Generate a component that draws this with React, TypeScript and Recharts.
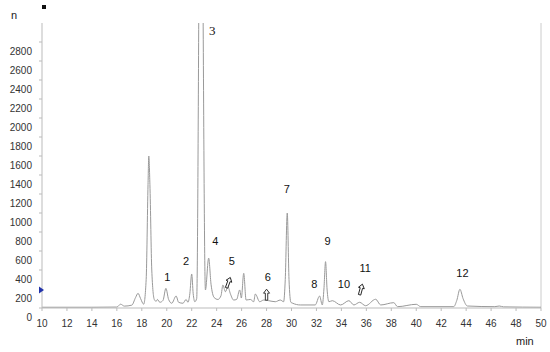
import React from 'react'
import { LineChart, Line, XAxis, YAxis, ReferenceDot, ReferenceLine } from 'recharts'

// retention time (min) and detector signal
const times = [
  10, 14, 16.0, 16.3, 16.6, 17.2, 17.5, 17.7, 17.9, 18.15, 18.35, 18.5, 18.56, 18.65, 18.8, 19.0,
  19.15, 19.25, 19.45, 19.7, 19.93, 20.15, 20.4, 20.75, 20.95, 21.3, 21.55, 21.7, 21.85, 22.0,
  22.12, 22.25, 22.4, 22.73, 23.1, 23.36, 23.55, 23.8, 24.1, 24.35, 24.5, 24.7, 24.9, 25.1,
  25.36, 25.6, 25.85, 25.98, 26.17, 26.36, 26.7, 26.97, 27.1, 27.45, 27.77, 28.17, 28.7, 29.1,
  29.37, 29.5, 29.66, 29.8, 29.95, 30.1, 30.7, 31.9, 32.25, 32.47, 32.6, 32.73, 32.85, 33.0,
  33.27, 33.94, 34.6, 35.0, 35.46, 35.94, 36.75, 37.15, 38.2, 38.5, 40.0, 40.36, 43.0, 43.25,
  43.5, 43.75, 44.1, 46.3, 46.65, 47.0, 50,
]
const signal = [
  8, 8, 10, 40, 20, 30, 110, 155, 100, 40, 300, 1300, 1600, 1300, 400, 90,
  70, 90, 60, 80, 207, 90, 50, 126, 60, 50, 90, 60, 150, 358,
  150, 66, 100, 6000, 190, 525, 250, 110, 90, 130, 242, 171, 225, 150,
  84, 90, 190, 105, 365, 84, 90, 66, 147, 66, 84, 77, 66, 84,
  66, 300, 1000, 300, 60, 50, 32, 32, 126, 32, 200, 488, 200, 66,
  77, 32, 77, 32, 60, 24, 92, 32, 56, 14, 39, 14, 14, 80,
  197, 100, 21, 14, 21, 12, 8,
]

const xTicks = [10, 12, 14, 16, 18, 20, 22, 24, 26, 28, 30, 32, 34, 36, 38, 40, 42, 44, 46, 48, 50]
const yTicks = [0, 200, 400, 600, 800, 1000, 1200, 1400, 1600, 1800, 2000, 2200, 2400, 2600, 2800]

// peak numbers
const peakNames = ['1', '2', '3', '4', '5', '6', '7', '8', '9', '10', '11', '12']
const peakX = [20.04, 21.55, 23.65, 23.89, 25.22, 28.1, 29.63, 31.82, 32.9, 34.2, 35.9, 43.7]
const peakY = [330, 500, 2916, 705, 500, 330, 1250, 253, 705, 250, 425, 370]

// small hollow arrows
const arrowX = [24.93, 28.0, 35.56]
const arrowY = [262, 135, 190]
const arrowTilt = [20, 0, 15]

const data = times.map((t, i) => ({ t, v: signal[i] }))

const font = 'Liberation Sans, Arial, sans-serif'

const YTick = (props: any) => {
  const { x, y, payload } = props
  return (
    <text x={x} y={y + 9} textAnchor="end" dominantBaseline="central" fontSize={10} fill="#333" fontFamily={font}>
      {payload.value}
    </text>
  )
}

export default function App() {
  return (
    <div style={{ position: 'absolute', left: 0, top: 0, width: 550, height: 352, background: '#fff' }}>
      <div style={{ position: 'absolute', left: 42, top: 5, width: 4, height: 4, background: '#111' }} />
      <div style={{ position: 'absolute', left: 11, top: 9, fontSize: 11, fontFamily: font, color: '#222' }}>n</div>
      <div style={{ position: 'absolute', left: 516, top: 335, fontSize: 11, fontFamily: font, color: '#222' }}>min</div>
      <LineChart width={550} height={352} data={data} margin={{ top: 23, right: 9, bottom: 14, left: 0 }}>
        <XAxis
          dataKey="t"
          type="number"
          domain={[10, 50]}
          ticks={xTicks}
          interval={0}
          tickSize={3}
          tickMargin={9}
          height={30}
          stroke="#bbb"
          tick={{ fontSize: 10, fill: '#333', fontFamily: font }}
        />
        <YAxis
          type="number"
          domain={[0, 3000]}
          allowDataOverflow
          ticks={yTicks}
          interval={0}
          width={42}
          tickSize={3}
          tickMargin={7}
          stroke="#bbb"
          tick={<YTick />}
        />
        <ReferenceLine x={50} stroke="#ccc" />
        <Line
          type="monotone"
          dataKey="v"
          stroke="#999"
          strokeWidth={1}
          dot={false}
          isAnimationActive={false}
        />
        <ReferenceDot
          x={10}
          y={190}
          r={0}
          ifOverflow="visible"
          shape={(p: any) => (
            <path d={`M${p.cx - 3},${p.cy - 3.5} L${p.cx + 2},${p.cy} L${p.cx - 3},${p.cy + 3.5} Z`} fill="#2233aa" />
          )}
        />
        {arrowX.map((ax, i) => (
          <ReferenceDot
            key={'a' + i}
            x={ax}
            y={arrowY[i]}
            r={0}
            ifOverflow="visible"
            shape={(p: any) => (
              <path
                transform={`translate(${p.cx},${p.cy}) rotate(${arrowTilt[i]})`}
                d="M0,-6 L3,-2 L1.2,-2 L1.2,5 L-1.2,5 L-1.2,-2 L-3,-2 Z"
                fill="#fff"
                stroke="#222"
                strokeWidth={0.9}
              />
            )}
          />
        ))}
        {peakNames.map((name, i) => (
          <ReferenceDot
            key={name}
            x={peakX[i]}
            y={peakY[i]}
            r={0}
            ifOverflow="visible"
            shape={(p: any) => (
              <text
                x={p.cx}
                y={p.cy}
                textAnchor="middle"
                dominantBaseline="central"
                fontSize={name === '3' ? 13 : 11}
                fontFamily={name === '3' ? 'Liberation Serif, serif' : font}
                fill="#111"
              >
                {name}
              </text>
            )}
          />
        ))}
      </LineChart>
    </div>
  )
}
